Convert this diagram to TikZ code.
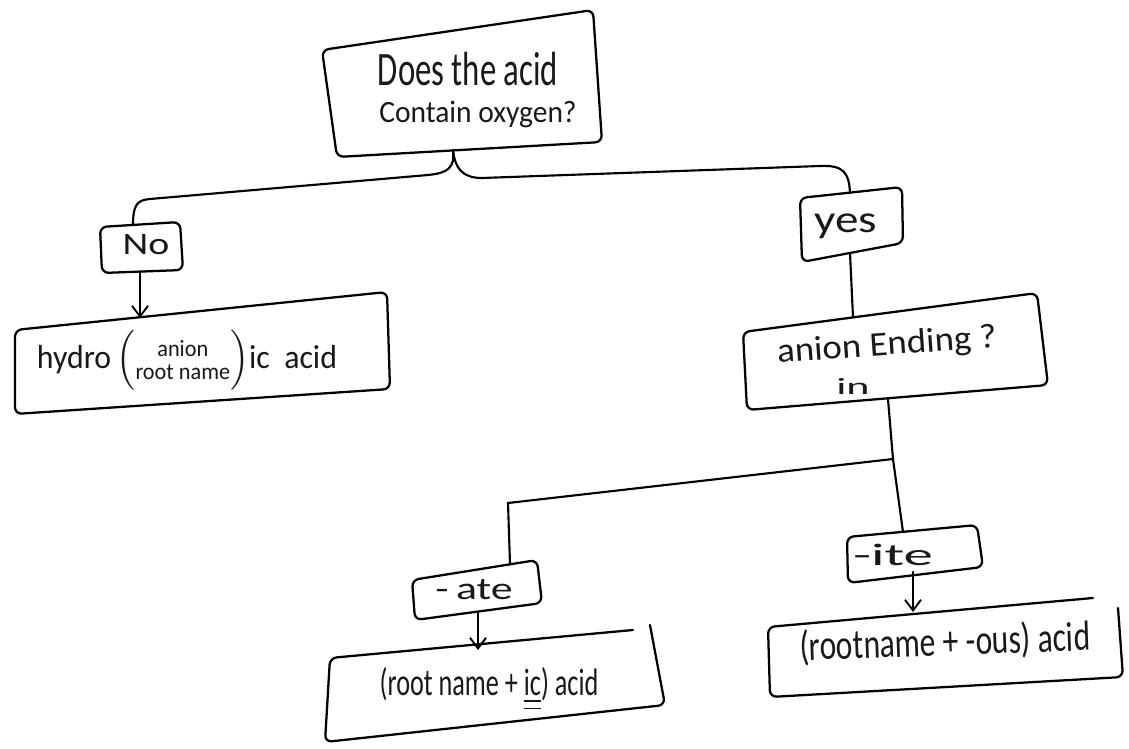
\documentclass[tikz,border=0pt]{standalone}
\usepackage{fontspec}
\setmainfont{Carlito}
\usetikzlibrary{arrows.meta}
% scale a piece of text to a given width and height
\newcommand{\fitw}[3]{\resizebox{#1}{#2}{#3}}
\newcommand{\dblul}[1]{\underline{\underline{#1}}}
\tikzset{
  pen/.style={line width=1.7pt, line cap=round, line join=round, rounded corners=5pt},
  link/.style={line width=1.6pt, line cap=round},
  arr/.style={link, -{Straight Barb[length=8pt,width=12pt,line width=1.4pt]}},
  lbl/.style={inner sep=0pt, anchor=center, text=black!90}
}
\begin{document}
\begin{tikzpicture}[x=0.75pt,y=-0.75pt]
\useasboundingbox[fill=white] (0,0) rectangle (1129,749);

% ---- box outlines (hand-drawn, slightly skewed) ----
\draw[pen] (322,50) -- (593,10) -- (602,142) -- (337,157) -- cycle;      % question
\draw[pen] (100,227) -- (180,222) -- (183,270) -- (102,273) -- cycle;    % No
\draw[pen] (15,330) -- (387,292) -- (390,389) -- (15,414) -- cycle;      % hydro...ic acid
\draw[pen] (800,198) -- (902,187) -- (903,243) -- (802,262) -- cycle;    % yes
\draw[pen] (743,332) -- (1037,293) -- (1048,385) -- (747,410) -- cycle;  % anion ending
\draw[pen] (412,580) -- (537,560) -- (542,603) -- (415,620) -- cycle;    % -ate
\draw[pen] (847,537) -- (977,525) -- (983,567) -- (848,583) -- cycle;    % -ite
\draw[pen] (633,630) -- (330,658) -- (325,742) -- (665,705) -- (650,625); % ic acid
\draw[pen] (1093,598) -- (768,627) -- (770,697) -- (1123,677) -- (1118,608); % ous acid

% ---- texts ----
\node[lbl] (q1) at (468,69) {\fitw{135pt}{25pt}{Does the acid}};
\node[lbl] (q2) at (478,114) {\fitw{148pt}{16pt}{Contain oxygen?}};
\node[lbl] (no) at (146,245) {\fitw{35pt}{15pt}{No}};
\node[lbl] (hydro) at (187,360) {\fitw{225pt}{30pt}{hydro\,$\left(\begin{tabular}{@{}c@{}}\scriptsize anion\\[-5pt]\scriptsize root name\end{tabular}\right)$ic\ \ acid}};
\node[lbl] (yes) at (846,226) {\fitw{47pt}{14pt}{yes}};
\node[lbl, rotate=4] (ending) at (887,346) {\fitw{165pt}{18pt}{anion Ending ?}};
\node[lbl] (in) at (853,386) {\fitw{25pt}{12pt}{in}};
\node[lbl] (ate) at (474,590) {\fitw{58pt}{15pt}{-\,ate}};
\node[lbl] (ite) at (893,555) {\fitw{60pt}{16pt}{-ite}};
\node[lbl] (ic) at (489,689) {\fitw{164pt}{21pt}{(root name + \dblul{ic}) acid}};
\node[lbl, rotate=2] (ous) at (945,643) {\fitw{218pt}{23pt}{(rootname + -ous) acid}};

% ---- connector end points on the box edges ----
\coordinate (qOut) at (453,150);
\coordinate (noIn) at (133,225);
\coordinate (noOut) at (140,272);
\coordinate (hydroIn) at (140,318);
\coordinate (yesIn) at (850,193);
\coordinate (yesOut) at (850,253);
\coordinate (endIn) at (853,317);
\coordinate (endOut) at (888,399);
\coordinate (split) at (893,459);
\coordinate (bend) at (508,503);
\coordinate (ateIn) at (510,564);
\coordinate (iteIn) at (903,532);
\coordinate (ateOut) at (478,613);
\coordinate (icIn) at (478,650);
\coordinate (iteOut) at (913,572);
\coordinate (ousIn) at (913,612);

% ---- connectors ----
\draw[link] (qOut) .. controls (455,168) and (448,173) .. (428,175)
  -- (150,199) .. controls (137,200) and (133,205) .. (noIn);
\draw[link] (qOut) .. controls (455,168) and (462,178) .. (482,178)
  -- (820,166) .. controls (843,165) and (849,172) .. (yesIn);
\draw[arr] (noOut) -- (hydroIn);
\draw[link] (yesOut) -- (endIn);
\draw[link] (endOut) -- (split) -- (iteIn);
\draw[link] (split) -- (bend) -- (ateIn);
\draw[arr] (ateOut) -- (icIn);
\draw[arr] (iteOut) -- (ousIn);
\end{tikzpicture}
\end{document}
